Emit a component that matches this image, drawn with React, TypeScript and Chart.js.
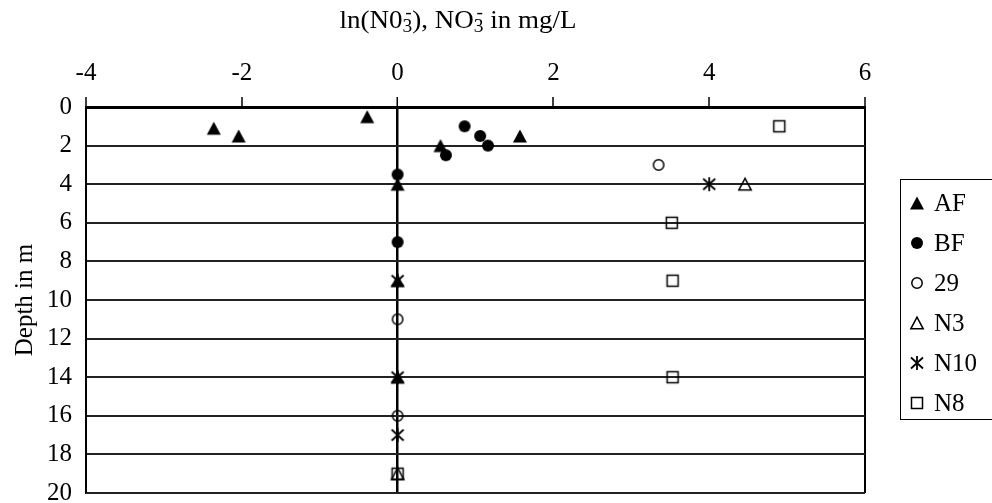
import React, { useEffect, useRef } from 'react';
import { Chart, registerables } from 'chart.js';

Chart.register(...registerables);

const FONT = "'Liberation Serif', 'Times New Roman', serif";

// Axis ticks
const xTickValues = [-4, -2, 0, 2, 4, 6];
const depthTickValues = [0, 2, 4, 6, 8, 10, 12, 14, 16, 18, 20];

// Title pieces: [text, kind]
const titleParts: [string, string][] = [
  ['ln(N0', 'main'],
  ['3', 'subsup'],
  ['), NO', 'main'],
  ['3', 'subsup'],
  [' in mg/L', 'main'],
];
const yTitle = 'Depth in m';

// Series
const seriesNames = ['AF', 'BF', '29', 'N3', 'N10', 'N8'];
const seriesMarkers = ['filledTriangle', 'filledCircle', 'openCircle', 'openTriangle', 'asterisk', 'openSquare'];

const afX = [-2.36, -2.04, -0.39, 0.55, 1.57, 0, 0, 0];
const afDepth = [1.1, 1.5, 0.5, 2.0, 1.5, 4, 9, 14];
const bfX = [0.86, 1.06, 1.16, 0.62, 0, 0];
const bfDepth = [1.0, 1.5, 2.0, 2.5, 3.5, 7];
const s29X = [3.35, 0, 0];
const s29Depth = [3, 11, 16];
const n3X = [4.46, 0];
const n3Depth = [4, 19];
const n10X = [4.0, 0, 0, 0];
const n10Depth = [4, 9, 14, 17];
const n8X = [4.9, 3.52, 3.53, 3.53, 0];
const n8Depth = [1, 6, 9, 14, 19];

const seriesX = [afX, bfX, s29X, n3X, n10X, n8X];
const seriesDepth = [afDepth, bfDepth, s29Depth, n3Depth, n10Depth, n8Depth];

function drawMarkerShape(g: CanvasRenderingContext2D, kind: string, cx: number, cy: number) {
  g.save();
  g.fillStyle = '#000';
  g.strokeStyle = '#000';
  g.lineWidth = 1.5;
  g.beginPath();
  switch (kind) {
    case 'filledTriangle':
      g.moveTo(cx, cy - 6.5);
      g.lineTo(cx + 7, cy + 6.5);
      g.lineTo(cx - 7, cy + 6.5);
      g.closePath();
      g.fill();
      break;
    case 'filledCircle':
      g.arc(cx, cy, 6, 0, Math.PI * 2);
      g.fill();
      break;
    case 'openCircle':
      g.arc(cx, cy, 5.2, 0, Math.PI * 2);
      g.stroke();
      break;
    case 'openTriangle':
      g.moveTo(cx, cy - 5.8);
      g.lineTo(cx + 6.2, cy + 5.8);
      g.lineTo(cx - 6.2, cy + 5.8);
      g.closePath();
      g.stroke();
      break;
    case 'asterisk':
      g.lineWidth = 1.8;
      g.moveTo(cx - 6, cy - 5.5);
      g.lineTo(cx + 6, cy + 5.5);
      g.moveTo(cx + 6, cy - 5.5);
      g.lineTo(cx - 6, cy + 5.5);
      g.moveTo(cx, cy - 7);
      g.lineTo(cx, cy + 7);
      g.stroke();
      break;
    case 'openSquare':
      g.rect(cx - 5.5, cy - 5.5, 11, 11);
      g.stroke();
      break;
  }
  g.restore();
}

function makeMarker(kind: string): HTMLCanvasElement {
  const c = document.createElement('canvas');
  c.width = 18;
  c.height = 18;
  const g = c.getContext('2d')!;
  drawMarkerShape(g, kind, 9, 9);
  return c;
}

const titlePlugin = {
  id: 'customTitle',
  afterDraw(chart: any) {
    const ctx: CanvasRenderingContext2D = chart.ctx;
    ctx.save();
    ctx.fillStyle = '#000';
    ctx.textBaseline = 'alphabetic';
    const mainFont = `25px ${FONT}`;
    const smallFont = `18px ${FONT}`;
    let w = 0;
    for (const [t, k] of titleParts) {
      ctx.font = k === 'main' ? mainFont : smallFont;
      w += ctx.measureText(t).width;
    }
    const sx = 1.08;
    const cx = 458;
    const baseline = 28;
    ctx.translate(cx - (w * sx) / 2, baseline);
    ctx.scale(sx, 1);
    let x = 0;
    for (const [t, k] of titleParts) {
      if (k === 'main') {
        ctx.font = mainFont;
        ctx.fillText(t, x, 0);
        x += ctx.measureText(t).width;
      } else {
        ctx.font = smallFont;
        ctx.fillText(t, x, 4);
        const mw = ctx.measureText('-').width;
        const tw = ctx.measureText(t).width;
        ctx.fillText('-', x + (tw - mw) / 2 + 1, -10.5);
        x += tw;
      }
    }
    ctx.restore();
  },
};

const legendPlugin = {
  id: 'customLegend',
  afterDraw(chart: any) {
    const ctx: CanvasRenderingContext2D = chart.ctx;
    ctx.save();
    ctx.strokeStyle = '#000';
    ctx.lineWidth = 1;
    ctx.strokeRect(900.5, 179.5, 100, 240);
    ctx.font = `25px ${FONT}`;
    ctx.fillStyle = '#000';
    ctx.textBaseline = 'middle';
    ctx.textAlign = 'left';
    const top = 203;
    const step = 40;
    seriesNames.forEach((name, i) => {
      const y = top + i * step;
      drawMarkerShape(ctx, seriesMarkers[i], 917, y);
      ctx.fillText(name, 934, y + 1);
    });
    ctx.restore();
  },
};

export default function App() {
  const ref = useRef<HTMLCanvasElement | null>(null);

  useEffect(() => {
    if (!ref.current) return;
    const markers = seriesMarkers.map(makeMarker);
    const datasets = seriesNames.map((name, i) => ({
      label: name,
      data: seriesX[i].map((x, j) => ({ x, y: seriesDepth[i][j] })),
      pointStyle: markers[i],
      showLine: false,
      borderColor: '#000',
      backgroundColor: '#000',
    }));

    const chart = new Chart(ref.current, {
      type: 'scatter',
      data: { datasets },
      options: {
        animation: false,
        responsive: false,
        devicePixelRatio: 1,
        layout: { padding: { top: 0, right: 127, bottom: 10, left: 0 } },
        plugins: {
          legend: { display: false },
          tooltip: { enabled: false },
          title: { display: false },
        },
        scales: {
          x: {
            type: 'linear',
            position: 'top',
            min: -4,
            max: 6,
            afterBuildTicks: (scale: any) => {
              scale.ticks = xTickValues.map((v) => ({ value: v }));
            },
            afterFit: (scale: any) => {
              scale.height = 107;
              scale.paddingLeft = 0;
              scale.paddingRight = 0;
            },
            ticks: {
              color: '#000',
              font: { family: FONT, size: 25 },
              padding: 9,
              maxRotation: 0,
              autoSkip: false,
            },
            grid: {
              color: (c: any) => {
                const v = c.tick ? c.tick.value : null;
                return v === 0 || v === -4 || v === 6 ? '#000' : 'rgba(0,0,0,0)';
              },
              lineWidth: (c: any) => (c.tick && c.tick.value === 0 ? 2.5 : 2),
              tickColor: '#000',
              tickLength: 10,
              tickWidth: 1.5,
            },
            border: { display: true, color: '#000', width: 3 },
          },
          y: {
            type: 'linear',
            reverse: true,
            min: 0,
            max: 20,
            afterBuildTicks: (scale: any) => {
              scale.ticks = depthTickValues.map((v) => ({ value: v }));
            },
            afterFit: (scale: any) => {
              scale.width = 86;
              scale.paddingTop = 0;
              scale.paddingBottom = 0;
            },
            ticks: {
              color: '#000',
              font: { family: FONT, size: 25 },
              padding: 14,
              autoSkip: false,
            },
            grid: {
              color: '#222',
              lineWidth: 2,
              drawTicks: false,
            },
            border: { display: true, color: '#000', width: 1.5 },
            title: {
              display: true,
              text: yTitle,
              color: '#000',
              font: { family: FONT, size: 25 },
              padding: { top: 10, bottom: 0 },
            },
          },
        },
      },
      plugins: [titlePlugin, legendPlugin],
    } as any);

    return () => chart.destroy();
  }, []);

  return (
    <div style={{ position: 'absolute', left: 0, top: 0, width: 992, height: 503, background: '#fff' }}>
      <canvas ref={ref} width={992} height={503} style={{ width: 992, height: 503, display: 'block' }} />
    </div>
  );
}
